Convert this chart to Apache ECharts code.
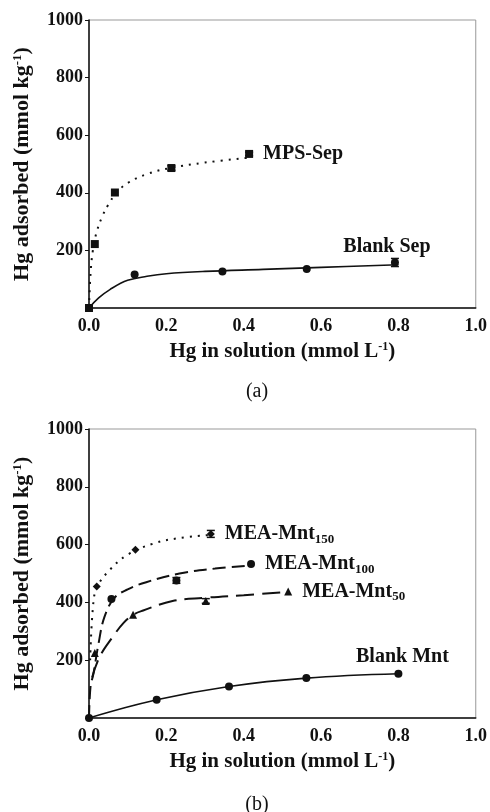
<!DOCTYPE html>
<html>
<head>
<meta charset="utf-8">
<script src="https://cdn.jsdelivr.net/npm/echarts@6/dist/echarts.min.js"></script>
<style>
  html, body { margin: 0; padding: 0; background: #fff; }
  #chart { width: 490px; height: 812px; }
</style>
</head>
<body>
<div id="chart"></div>
<script>
// 数据 (a) 海泡石
const mpsSepPts = [[0, 0], [0.015, 222], [0.067, 401], [0.213, 486], [0.414, 535]];
const mpsSepCurve = [[0, 0], [0.004, 120], [0.01, 200], [0.02, 265], [0.035, 320], [0.05, 359], [0.07, 398], [0.1, 434], [0.15, 465], [0.21, 486], [0.3, 505], [0.414, 522]];
const blankSepPts = [[0, 0], [0.118, 116], [0.345, 127], [0.563, 135], [0.791, 158]];
const blankSepCurve = [[0, 0], [0.025, 35], [0.054, 64], [0.1, 96], [0.15, 110], [0.2, 119], [0.3, 127], [0.45, 134], [0.6, 141], [0.8, 150]];

// 数据 (b) 蒙脱石
const mea150Pts = [[0.02, 455], [0.12, 582], [0.315, 637]];
const mea150Curve = [[0.003, 200], [0.01, 380], [0.02, 450], [0.054, 513], [0.1, 565], [0.165, 603], [0.23, 622], [0.31, 633]];
const mea100Pts = [[0.058, 412], [0.226, 476], [0.419, 533]];
const mea100Curve = [[0, 0], [0.004, 110], [0.011, 150], [0.025, 260], [0.04, 350], [0.066, 416], [0.1, 445], [0.148, 470], [0.234, 500], [0.326, 517], [0.419, 528]];
const mea50Pts = [[0.015, 225], [0.114, 357], [0.302, 405], [0.515, 438]];
const mea50Curve = [[0.008, 140], [0.028, 213], [0.062, 282], [0.09, 330], [0.114, 357], [0.14, 372], [0.216, 405], [0.3, 416], [0.4, 425], [0.515, 436]];
const blankMntPts = [[0, 0], [0.175, 63], [0.362, 109], [0.562, 138], [0.8, 153]];
const blankMntCurve = [[0, 0], [0.175, 63], [0.362, 109], [0.562, 138], [0.8, 153]];

// 误差棒 [x, y, 半宽]
const errBarsA = [[0.213, 486, 8], [0.414, 535, 6], [0.791, 158, 14]];
const errBarsB = [[0.315, 637, 12], [0.226, 476, 10], [0.302, 405, 8]];

const xTicks = [0, 0.2, 0.4, 0.6, 0.8, 1.0];
const yTicks = [0, 200, 400, 600, 800, 1000];

const serif = "'Liberation Serif', 'DejaVu Serif', serif";
const textStyle = { fontFamily: serif, fontWeight: 'bold', fontSize: 18, color: '#111' };

function xAxisOf(gi) {
    return {
        gridIndex: gi, type: 'value', min: xTicks[0], max: xTicks[xTicks.length - 1], interval: 0.2,
        name: '{n|Hg in solution (mmol L}{s|-1}{n|)}',
        nameLocation: 'middle', nameGap: 33,
        nameTextStyle: { rich: { n: { ...textStyle, fontSize: 21 }, s: { ...textStyle, fontSize: 12, verticalAlign: 'top', padding: [0, 0, 9, 0] } } },
        axisLine: { lineStyle: { color: '#111', width: 1.5 } },
        axisTick: { show: false },
        splitLine: { show: false },
        axisLabel: { ...textStyle, margin: 9, formatter: v => v.toFixed(1) }
    };
}
function yAxisOf(gi) {
    return {
        gridIndex: gi, type: 'value', min: yTicks[0], max: yTicks[yTicks.length - 1], interval: 200,
        name: '{n|Hg adsorbed (mmol kg}{s|-1}{n|)}',
        nameLocation: 'middle', nameGap: 56, nameRotate: 90,
        nameTextStyle: { rich: { n: { ...textStyle, fontSize: 22 }, s: { ...textStyle, fontSize: 13, verticalAlign: 'top', padding: [0, 0, 9, 0] } } },
        axisLine: { lineStyle: { color: '#111', width: 1.5 } },
        axisTick: { show: true, length: 4, lineStyle: { color: '#111' } },
        splitLine: { show: false },
        axisLabel: { ...textStyle, margin: 6, formatter: v => v === 0 ? '' : String(v) }
    };
}

function curve(gi, data, dash) {
    return {
        type: 'line', xAxisIndex: gi, yAxisIndex: gi, data: data, smooth: 0.4,
        symbol: 'none', silent: true,
        lineStyle: { color: '#111', width: dash === 'solid' ? 1.6 : 2, type: dash }
    };
}
function points(gi, data, symbol, labelText, labelPos) {
    return {
        type: 'scatter', xAxisIndex: gi, yAxisIndex: gi, symbol: symbol, symbolSize: 8,
        itemStyle: { color: '#111', opacity: 1 },
        data: data.map((p, i) => {
            if (i !== data.length - 1) return p;
            return {
                value: p,
                label: {
                    show: true, formatter: labelText, ...labelPos,
                    rich: {
                        n: { ...textStyle, fontSize: 20, opacity: 1 },
                        s: { ...textStyle, fontSize: 13, verticalAlign: 'bottom', padding: [11, 0, 0, 0], opacity: 1 }
                    }
                }
            };
        })
    };
}
function errBars(gi, data) {
    return {
        type: 'custom', xAxisIndex: gi, yAxisIndex: gi, data: data, silent: true,
        renderItem: (params, api) => {
            const top = api.coord([api.value(0), api.value(1) + api.value(2)]);
            const bot = api.coord([api.value(0), api.value(1) - api.value(2)]);
            const st = { stroke: '#111', lineWidth: 1.5 };
            return {
                type: 'group', children: [
                    { type: 'line', shape: { x1: top[0], y1: top[1], x2: bot[0], y2: bot[1] }, style: st },
                    { type: 'line', shape: { x1: top[0] - 4, y1: top[1], x2: top[0] + 4, y2: top[1] }, style: st },
                    { type: 'line', shape: { x1: bot[0] - 4, y1: bot[1], x2: bot[0] + 4, y2: bot[1] }, style: st }
                ]
            };
        }
    };
}

const right = { position: 'right', distance: 10 };
const aboveSep = { position: 'top', distance: 2, offset: [-8, 0] };
const aboveMnt = { position: 'top', distance: 3, offset: [4, 0] };

let myChart = echarts.init(document.getElementById('chart'));
myChart.setOption({
    animation: false,
    backgroundColor: '#fff',
    title: [
        { text: '(a)', left: 252, top: 377, textAlign: 'center', textStyle: { fontFamily: serif, fontWeight: 'normal', fontSize: 20, color: '#111' } },
        { text: '(b)', left: 252, top: 790, textAlign: 'center', textStyle: { fontFamily: serif, fontWeight: 'normal', fontSize: 20, color: '#111' } }
    ],
    grid: [
        { left: 89, top: 20, width: 389, height: 288, show: true, borderColor: '#999', borderWidth: 1 },
        { left: 89, top: 429, width: 390, height: 289, show: true, borderColor: '#999', borderWidth: 1 }
    ],
    xAxis: [xAxisOf(0), xAxisOf(1)],
    yAxis: [yAxisOf(0), yAxisOf(1)],
    series: [
        curve(0, mpsSepCurve, [2, 6]),
        curve(0, blankSepCurve, 'solid'),
        points(0, mpsSepPts, 'rect', '{n|MPS-Sep}', right),
        points(0, blankSepPts, 'circle', '{n|Blank Sep}', aboveSep),
        errBars(0, errBarsA),
        curve(1, mea150Curve, [2, 6]),
        curve(1, mea100Curve, [13, 6]),
        curve(1, mea50Curve, [18, 8]),
        curve(1, blankMntCurve, 'solid'),
        points(1, mea150Pts, 'diamond', '{n|MEA-Mnt}{s|150}', right),
        points(1, mea100Pts, 'circle', '{n|MEA-Mnt}{s|100}', right),
        points(1, mea50Pts, 'triangle', '{n|MEA-Mnt}{s|50}', right),
        points(1, blankMntPts, 'circle', '{n|Blank Mnt}', aboveMnt),
        errBars(1, errBarsB)
    ]
});
</script>
</body>
</html>
